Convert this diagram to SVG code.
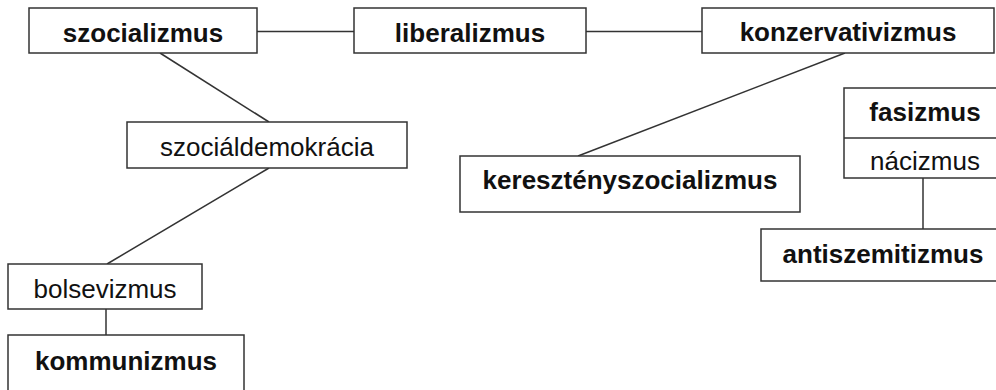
<svg xmlns="http://www.w3.org/2000/svg" width="996" height="390" viewBox="0 0 996 390">
<style>
.box{fill:#fff;stroke:#333;stroke-width:1.5}
.t{font-family:"Liberation Sans",Arial,sans-serif;font-size:26px;fill:#111;text-anchor:middle}
.b{font-weight:bold}
.c line{stroke:#333;stroke-width:1.5}
</style>
<rect width="996" height="390" fill="#fff"/>
<g class="c" id="connectors">
<line x1="257" y1="31.5" x2="354" y2="31.5"/>
<line x1="586" y1="31.5" x2="702" y2="31.5"/>
<line x1="160" y1="53" x2="269" y2="122"/>
<line x1="269" y1="168" x2="107" y2="264"/>
<line x1="845" y1="53" x2="578" y2="156"/>
<line x1="923" y1="178" x2="923" y2="229"/>
<line x1="106" y1="309" x2="106" y2="335"/>
</g>
<g id="szocializmus"><rect class="box" x="29" y="8" width="228" height="45"/><text class="t b" x="143" y="42">szocializmus</text></g>
<g id="liberalizmus"><rect class="box" x="354" y="8" width="232" height="45"/><text class="t b" x="470" y="42">liberalizmus</text></g>
<g id="konzervativizmus"><rect class="box" x="702" y="8" width="292" height="45"/><text class="t b" x="848" y="41">konzervativizmus</text></g>
<g id="szocialdemokracia"><rect class="box" x="127" y="122" width="280" height="46"/><text class="t" x="267" y="156">szociáldemokrácia</text></g>
<g id="kereszténysz"><rect class="box" x="460" y="156" width="340" height="56"/><text class="t b" x="630" y="188.5">keresztényszocializmus</text></g>
<g id="fasizmus"><rect class="box" x="844" y="88" width="162" height="90"/><line x1="844" y1="138" x2="1006" y2="138" stroke="#333" stroke-width="1.5"/><text class="t b" x="925" y="121">fasizmus</text><text class="t" x="925" y="170">nácizmus</text></g>
<g id="antiszemitizmus"><rect class="box" x="761" y="229" width="245" height="52"/><text class="t b" x="883" y="263">antiszemitizmus</text></g>
<g id="bolsevizmus"><rect class="box" x="8" y="264" width="194" height="45"/><text class="t" x="105" y="298">bolsevizmus</text></g>
<g id="kommunizmus"><rect class="box" x="8" y="335" width="236" height="70"/><text class="t b" x="126" y="370">kommunizmus</text></g>
</svg>
